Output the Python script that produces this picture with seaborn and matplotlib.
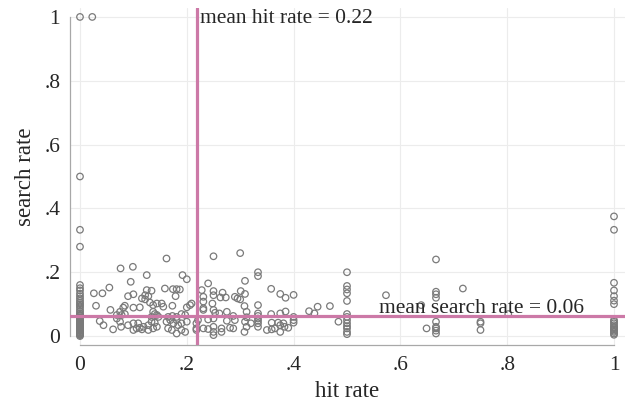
import seaborn as sns
import pandas as pd
import numpy as np
import matplotlib.pyplot as plt

# search rate of officers with a hit rate of exactly 0, 1/3, 1/2, 2/3, 3/4, 1
zero_hit_search = [1.0, 0.5, 0.333, 0.28, 0.16, 0.15, 0.143, 0.133, 0.125, 0.118, 0.111,
                   0.105, 0.1, 0.095, 0.09, 0.083, 0.077, 0.071, 0.067, 0.063, 0.059, 0.056,
                   0.053, 0.05, 0.045, 0.042, 0.04, 0.037, 0.034, 0.031, 0.029, 0.027, 0.025,
                   0.022, 0.02, 0.018, 0.015, 0.012, 0.01, 0.008, 0.005, 0.003, 0.0]
third_hit_search = [0.2, 0.188, 0.097, 0.071, 0.063, 0.055, 0.048, 0.04, 0.029]
half_hit_search = [0.2, 0.157, 0.146, 0.134, 0.11, 0.069, 0.06, 0.05, 0.04, 0.031, 0.024,
                   0.013, 0.006]
twothird_hit_search = [0.24, 0.139, 0.131, 0.12, 0.045, 0.029, 0.024, 0.017, 0.008]
threequarter_hit_search = [0.045, 0.04, 0.019]
full_hit_search = [0.375, 0.333, 0.167, 0.143, 0.125, 0.111, 0.1, 0.05, 0.045, 0.04, 0.034,
                   0.029, 0.025, 0.021, 0.017, 0.013, 0.008, 0.004]

# everyone else: (hit rate, search rate)
other_points = [
    (0.023, 1.0),
    (0.026, 0.134), (0.042, 0.134), (0.055, 0.152), (0.03, 0.095), (0.057, 0.082),
    (0.076, 0.212), (0.099, 0.217), (0.095, 0.17), (0.09, 0.125), (0.10, 0.131),
    (0.084, 0.095), (0.081, 0.089), (0.10, 0.089), (0.075, 0.076), (0.069, 0.066),
    (0.078, 0.066), (0.084, 0.069), (0.037, 0.047), (0.044, 0.034), (0.062, 0.021),
    (0.069, 0.055), (0.075, 0.045), (0.09, 0.034), (0.10, 0.04), (0.10, 0.019),
    (0.077, 0.029), (0.112, 0.026), (0.112, 0.09),
    (0.162, 0.243), (0.125, 0.191), (0.192, 0.191), (0.2, 0.178), (0.125, 0.144),
    (0.134, 0.142), (0.122, 0.128), (0.128, 0.125), (0.159, 0.149), (0.174, 0.147),
    (0.181, 0.147), (0.187, 0.146), (0.179, 0.125), (0.116, 0.118), (0.122, 0.115),
    (0.131, 0.105), (0.137, 0.097), (0.144, 0.102), (0.153, 0.102), (0.156, 0.092),
    (0.173, 0.095), (0.2, 0.09), (0.206, 0.097), (0.209, 0.102), (0.137, 0.076),
    (0.14, 0.069), (0.144, 0.066), (0.134, 0.06), (0.147, 0.06), (0.165, 0.06),
    (0.173, 0.063), (0.181, 0.06), (0.19, 0.069), (0.197, 0.066),
    (0.109, 0.04), (0.119, 0.029), (0.128, 0.034), (0.134, 0.045), (0.14, 0.042),
    (0.144, 0.029), (0.162, 0.045), (0.169, 0.05), (0.175, 0.04), (0.181, 0.05),
    (0.184, 0.034), (0.19, 0.04), (0.2, 0.045),
    (0.106, 0.024), (0.116, 0.021), (0.128, 0.019), (0.137, 0.024), (0.165, 0.024),
    (0.172, 0.019), (0.181, 0.008), (0.19, 0.019), (0.197, 0.013),
    (0.218, 0.04), (0.218, 0.024), (0.218, 0.019),
    (0.25, 0.25), (0.30, 0.26), (0.24, 0.165), (0.228, 0.144), (0.25, 0.141),
    (0.25, 0.128), (0.267, 0.136), (0.301, 0.141), (0.309, 0.132), (0.309, 0.173),
    (0.263, 0.121), (0.273, 0.121), (0.29, 0.123), (0.295, 0.118), (0.30, 0.115),
    (0.231, 0.123), (0.231, 0.108), (0.231, 0.087), (0.231, 0.082), (0.248, 0.102),
    (0.25, 0.082), (0.253, 0.073), (0.308, 0.094), (0.312, 0.076),
    (0.275, 0.048), (0.287, 0.063), (0.29, 0.05), (0.312, 0.059), (0.309, 0.045),
    (0.275, 0.076), (0.261, 0.071), (0.25, 0.055), (0.24, 0.052), (0.221, 0.05),
    (0.231, 0.024), (0.24, 0.022), (0.25, 0.029), (0.25, 0.013), (0.25, 0.003),
    (0.265, 0.024), (0.265, 0.013), (0.281, 0.026), (0.287, 0.024), (0.308, 0.013),
    (0.312, 0.029), (0.32, 0.04),
    (0.358, 0.148), (0.375, 0.132), (0.385, 0.12), (0.40, 0.129), (0.358, 0.069),
    (0.375, 0.071), (0.385, 0.077), (0.40, 0.06), (0.429, 0.078), (0.439, 0.071),
    (0.445, 0.092), (0.468, 0.094), (0.359, 0.042), (0.371, 0.042), (0.381, 0.04),
    (0.40, 0.042), (0.40, 0.05), (0.35, 0.019), (0.359, 0.021), (0.365, 0.024),
    (0.375, 0.013), (0.39, 0.026), (0.375, 0.034), (0.383, 0.029),
    (0.484, 0.045), (0.573, 0.128), (0.639, 0.097), (0.649, 0.024), (0.717, 0.149),
    (0.802, 0.069),
]

xticks = [0, 0.2, 0.4, 0.6, 0.8, 1]
tick_labels = ['0', '.2', '.4', '.6', '.8', '1']

hit = ([0.0] * len(zero_hit_search) + [1 / 3] * len(third_hit_search)
       + [0.5] * len(half_hit_search) + [2 / 3] * len(twothird_hit_search)
       + [0.75] * len(threequarter_hit_search) + [1.0] * len(full_hit_search)
       + [p[0] for p in other_points])
search = (zero_hit_search + third_hit_search + half_hit_search + twothird_hit_search
          + threequarter_hit_search + full_hit_search + [p[1] for p in other_points])
df = pd.DataFrame({'hit rate': hit, 'search rate': search})

mean_hit = 0.22
mean_search = 0.063

sns.set_style('white')
plt.rcParams['font.family'] = ['Liberation Serif', 'DejaVu Serif']

fig = plt.figure(figsize=(6.29, 4.08), dpi=100)
ax = fig.add_axes([70 / 629, 1 - 345 / 408, 555 / 629, 337 / 408])

sns.scatterplot(data=df, x='hit rate', y='search rate', ax=ax, marker='o', s=22,
                facecolor='none', edgecolor='#7a7a7a', linewidth=0.9, zorder=3)

pink = '#cc79a7'
ax.axvline(mean_hit, color=pink, lw=2.3, zorder=4)
ax.axhline(mean_search, color=pink, lw=2.3, zorder=4)
ax.text(mean_hit + 0.004, 0.995, 'mean hit rate = 0.22', fontsize=15.5, ha='left', va='center', zorder=5)
ax.text(0.752, 0.071, 'mean search rate = 0.06', fontsize=15.5, ha='center', va='baseline', zorder=5)

ax.set_xlim(-0.0187, 1.0206)
ax.set_ylim(-0.028, 1.028)
ax.set_xticks(xticks)
ax.set_xticklabels(tick_labels)
ax.set_yticks(xticks)
ax.set_yticklabels(tick_labels)
ax.grid(True, color='#ececec', lw=0.8)
ax.set_axisbelow(True)

for side in ['top', 'right']:
    ax.spines[side].set_visible(False)
for side in ['left', 'bottom']:
    ax.spines[side].set_color('#a8a8a8')
    ax.spines[side].set_linewidth(0.9)
    ax.spines[side].set_bounds(0, 1)
ax.tick_params(axis='both', length=5, width=0.9, color='#a8a8a8', labelsize=15.5, pad=2)
ax.tick_params(axis='x', pad=3)

ax.set_xlabel('hit rate', fontsize=16.5, labelpad=4)
ax.set_ylabel('search rate', fontsize=16.5, labelpad=6)

fig.savefig('out.png', dpi=100)
